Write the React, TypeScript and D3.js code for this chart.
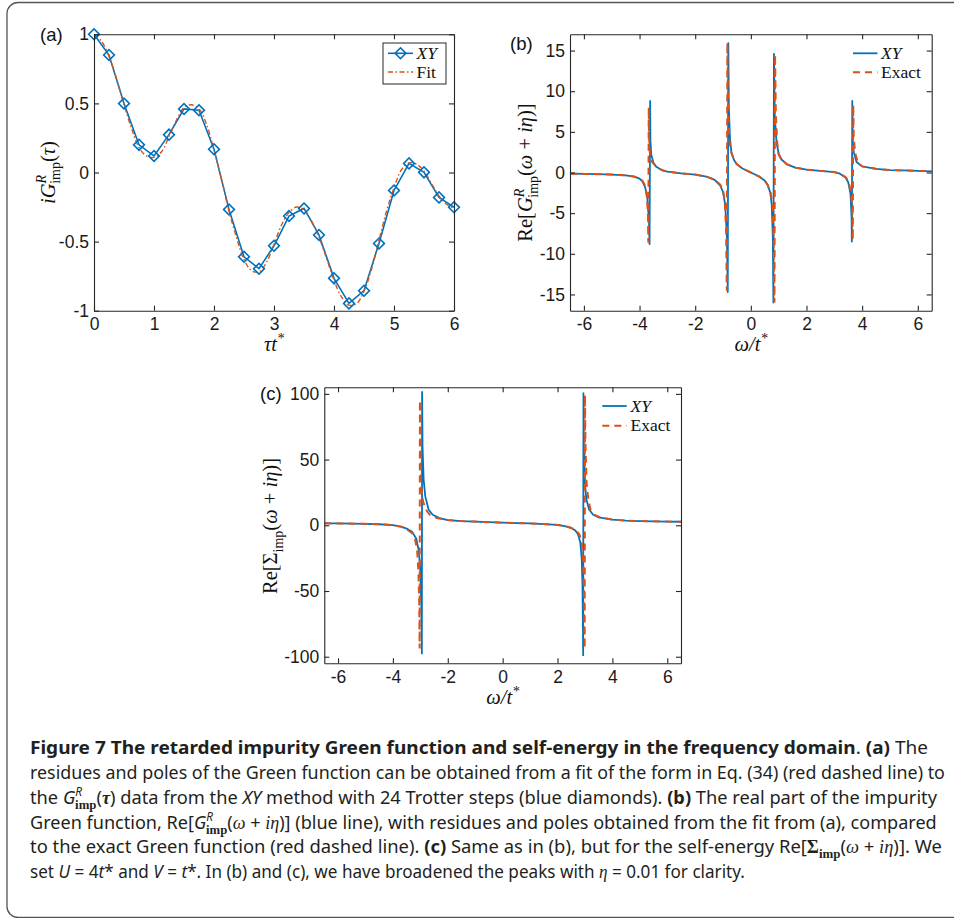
import React, { useEffect, useRef } from "react";
import * as d3 from "d3";

const BLUE = "#0072BD";
const RED = "#D95319";
const AX = "#262626";
const SANS = "'Liberation Sans', Arial, Helvetica, sans-serif";
const SERIF = "'Liberation Serif', 'Times New Roman', serif";

// ---------- Panel (a): iG(tau) ----------
const aTau = [0, 0.25, 0.5, 0.75, 1, 1.25, 1.5, 1.75, 2, 2.25, 2.5, 2.75, 3, 3.25, 3.5, 3.75, 4, 4.25, 4.5, 4.75, 5, 5.25, 5.5, 5.75, 6];
const aXY = [1.0, 0.85, 0.5, 0.2, 0.12, 0.274, 0.46, 0.45, 0.168, -0.267, -0.61, -0.696, -0.53, -0.315, -0.26, -0.452, -0.766, -0.947, -0.855, -0.513, -0.13, 0.066, 0.001, -0.18, -0.252];
const aFitTau = [0, 0.125, 0.25, 0.375, 0.5, 0.625, 0.75, 0.875, 1, 1.125, 1.25, 1.375, 1.5, 1.625, 1.75, 1.875, 2, 2.125, 2.25, 2.375, 2.5, 2.625, 2.75, 2.875, 3, 3.125, 3.25, 3.375, 3.5, 3.625, 3.75, 3.875, 4, 4.125, 4.25, 4.375, 4.5, 4.625, 4.75, 4.875, 5, 5.125, 5.25, 5.375, 5.5, 5.625, 5.75, 5.875, 6];
const aFit = [1.0, 0.95, 0.84, 0.68, 0.49, 0.32, 0.18, 0.12, 0.11, 0.15, 0.26, 0.38, 0.47, 0.49, 0.46, 0.35, 0.16, -0.05, -0.28, -0.47, -0.63, -0.71, -0.72, -0.65, -0.52, -0.38, -0.29, -0.25, -0.27, -0.35, -0.47, -0.62, -0.78, -0.9, -0.96, -0.95, -0.86, -0.7, -0.49, -0.28, -0.11, 0.02, 0.07, 0.06, 0.01, -0.08, -0.17, -0.23, -0.26];
const aXTicks = [0, 1, 2, 3, 4, 5, 6];
const aYTicks = [-1, -0.5, 0, 0.5, 1];

// ---------- Panel (b): Re G(omega) ----------
const bXYw = [-6.5, -6, -5.5, -5, -4.5, -4.2, -4, -3.9, -3.8, -3.72, -3.66, -3.64, -3.62, -3.61, -3.58, -3.5, -3.4, -3.2, -3, -2.5, -2, -1.6, -1.3, -1.1, -1, -0.92, -0.86, -0.83, -0.81, -0.79, -0.75, -0.7, -0.6, -0.5, -0.3, 0, 0.3, 0.5, 0.6, 0.7, 0.75, 0.79, 0.81, 0.83, 0.86, 0.92, 1, 1.1, 1.3, 1.6, 2, 2.5, 3, 3.2, 3.4, 3.5, 3.58, 3.62, 3.63, 3.645, 3.66, 3.7, 3.8, 4, 4.5, 5, 5.5, 6, 6.5];
const bXYv = [-0.15, -0.17, -0.2, -0.25, -0.35, -0.5, -0.75, -1.1, -1.8, -3.2, -6.0, -8.8, 8.8, 4.0, 2.2, 1.2, 0.7, 0.3, 0.1, -0.1, -0.25, -0.5, -0.9, -1.6, -2.4, -4.0, -8, -14.7, 15.9, 8, 4.2, 2.5, 1.5, 1.0, 0.5, 0.0, -0.5, -1.0, -1.5, -2.5, -4.0, -8, -16.0, 14.6, 7, 3.8, 2.3, 1.6, 1.0, 0.6, 0.35, 0.2, 0.05, -0.15, -0.6, -1.2, -2.6, -5.5, -8.5, 8.8, 4, 2.5, 1.3, 0.75, 0.45, 0.3, 0.25, 0.2, 0.15];
const bExw = [-6.5, -6, -5.5, -5, -4.5, -4.2, -4, -3.9, -3.8, -3.74, -3.7, -3.685, -3.67, -3.66, -3.63, -3.55, -3.4, -3.2, -3, -2.5, -2, -1.6, -1.3, -1.1, -1, -0.94, -0.89, -0.865, -0.845, -0.82, -0.78, -0.72, -0.6, -0.5, -0.3, 0, 0.3, 0.5, 0.6, 0.72, 0.78, 0.82, 0.85, 0.87, 0.9, 0.95, 1, 1.1, 1.3, 1.6, 2, 2.5, 3, 3.2, 3.4, 3.5, 3.6, 3.65, 3.665, 3.68, 3.7, 3.75, 3.85, 4, 4.5, 5, 5.5, 6, 6.5];
const bExv = [-0.15, -0.17, -0.2, -0.25, -0.35, -0.5, -0.7, -1.0, -1.6, -2.8, -5.0, -8.6, 8.0, 4.5, 2.4, 1.3, 0.7, 0.3, 0.1, -0.1, -0.25, -0.5, -0.85, -1.5, -2.1, -3.5, -7, -14.5, 16.0, 8, 4.2, 2.6, 1.5, 1.0, 0.5, 0, -0.5, -1.0, -1.5, -2.6, -4.2, -8, -16.0, 14.5, 7, 3.6, 2.2, 1.6, 1.0, 0.6, 0.35, 0.2, 0.05, -0.15, -0.55, -1.0, -2.4, -5, -8.3, 8.3, 4.2, 2.4, 1.2, 0.75, 0.45, 0.3, 0.25, 0.2, 0.15];
const bXTicks = [-6, -4, -2, 0, 2, 4, 6];
const bYTicks = [-15, -10, -5, 0, 5, 10, 15];

// ---------- Panel (c): Re Sigma(omega) ----------
const cXYw = [-6.5, -6, -5, -4.5, -4, -3.7, -3.5, -3.3, -3.15, -3.05, -3, -2.965, -2.945, -2.935, -2.92, -2.88, -2.82, -2.7, -2.55, -2.3, -2, -1.5, -1, 0, 1, 1.5, 2, 2.3, 2.5, 2.65, 2.75, 2.83, 2.88, 2.91, 2.935, 2.945, 2.96, 3, 3.05, 3.15, 3.3, 3.5, 4, 4.5, 5, 6, 6.5];
const cXYv = [1.5, 1.4, 1.1, 0.8, 0.2, -1, -2.5, -5, -10, -20, -35, -60, -97.5, 101.5, 60, 35, 22, 12, 8, 5.5, 4, 3.2, 2.8, 2.0, 1.4, 0.9, 0.3, -0.8, -2, -4, -7, -13, -25, -45, -98.8, 100.5, 60, 32, 20, 12, 8, 6, 4.3, 3.6, 3.2, 2.8, 2.7];
const cExw = [-6.5, -6, -5, -4.5, -4, -3.7, -3.5, -3.3, -3.2, -3.12, -3.07, -3.04, -3.025, -3.015, -3, -2.97, -2.9, -2.8, -2.65, -2.4, -2, -1.5, -1, 0, 1, 1.5, 2, 2.3, 2.5, 2.7, 2.8, 2.88, 2.93, 2.96, 2.99, 3.0, 3.02, 3.06, 3.12, 3.2, 3.35, 3.55, 4, 4.5, 5, 6, 6.5];
const cExv = [1.5, 1.4, 1.1, 0.8, 0.2, -1.2, -3, -6, -10, -18, -35, -60, -93.7, 95, 60, 30, 18, 12, 8, 5.5, 4, 3.2, 2.8, 2.0, 1.4, 0.9, 0.3, -0.8, -2, -4.5, -7, -13, -25, -45, -93.7, 99, 60, 32, 20, 12, 8, 6, 4.4, 3.6, 3.2, 2.8, 2.7];
const cXTicks = [-6, -4, -2, 0, 2, 4, 6];
const cYTicks = [-100, -50, 0, 50, 100];

// caption line layout: [baseline y, target width]
const capY = [754, 779, 803.5, 828.5, 853, 877.5];
const capW = [898, 915, 914, 913, 912, 715];

type Sel = d3.Selection<SVGGElement, unknown, null, undefined>;

function drawAxes(g: Sel, x: d3.ScaleLinear<number, number>, y: d3.ScaleLinear<number, number>, xt: number[], yt: number[]) {
  const [x0, x1] = x.range();
  const [y0, y1] = y.range();
  const fmt = (d: d3.NumberValue) => String(d);
  const style = (s: Sel) => {
    s.attr("font-size", 17.5).attr("font-family", SANS);
    s.selectAll("path, line").attr("stroke", AX).attr("stroke-width", 1.1);
    s.selectAll("text").attr("fill", "#1a1a1a");
  };
  g.append("g").attr("transform", `translate(0,${y0})`)
    .call(d3.axisBottom(x).tickValues(xt).tickSizeInner(-5).tickSizeOuter(0).tickPadding(7).tickFormat(fmt)).call(style);
  g.append("g").attr("transform", `translate(0,${y1})`)
    .call(d3.axisTop(x).tickValues(xt).tickSizeInner(-5).tickSizeOuter(0).tickFormat(() => "")).call(style);
  g.append("g").attr("transform", `translate(${x0},0)`)
    .call(d3.axisLeft(y).tickValues(yt).tickSizeInner(-5).tickSizeOuter(0).tickPadding(5).tickFormat(fmt)).call(style);
  g.append("g").attr("transform", `translate(${x1},0)`)
    .call(d3.axisRight(y).tickValues(yt).tickSizeInner(-5).tickSizeOuter(0).tickFormat(() => "")).call(style);
}

function clip(g: Sel, id: string, x: d3.ScaleLinear<number, number>, y: d3.ScaleLinear<number, number>) {
  const [x0, x1] = x.range();
  const [y0, y1] = y.range();
  g.append("clipPath").attr("id", id).append("rect").attr("x", x0).attr("y", y1).attr("width", x1 - x0).attr("height", y0 - y1);
}

function linePath(x: d3.ScaleLinear<number, number>, y: d3.ScaleLinear<number, number>, xs: number[], ys: number[], curve: d3.CurveFactory = d3.curveLinear) {
  const pts: [number, number][] = xs.map((v, i) => [v, ys[i]]);
  return d3.line<[number, number]>().x((d) => x(d[0])).y((d) => y(d[1])).curve(curve)(pts) as string;
}

export default function App() {
  const ref = useRef<SVGGElement>(null);
  const capRef = useRef<SVGGElement>(null);

  useEffect(() => {
    const fit = () => {
      const texts = capRef.current ? Array.from(capRef.current.querySelectorAll("text")) : [];
      texts.forEach((t, i) => {
        const w = (t as SVGTextElement).getComputedTextLength();
        const s = w > 0 ? capW[i] / w : 1;
        t.setAttribute("transform", `translate(30,${capY[i]}) scale(${s},1)`);
      });
    };
    fit();
    if ((document as any).fonts && (document as any).fonts.ready) (document as any).fonts.ready.then(fit);
  }, []);

  useEffect(() => {
    const root = d3.select(ref.current as SVGGElement) as unknown as Sel;
    root.selectAll("*").remove();

    const diamond = d3.symbol().type(d3.symbolSquare).size(58)() as string;

    // ----- Panel a -----
    const xA = d3.scaleLinear().domain([0, 6]).range([94, 454]);
    const yA = d3.scaleLinear().domain([-1, 1]).range([310.7, 34.3]);
    const ga = root.append("g");
    clip(ga, "clipA", xA, yA);
    const pa = ga.append("g").attr("clip-path", "url(#clipA)");
    pa.append("path").attr("d", linePath(xA, yA, aTau, aXY)).attr("fill", "none").attr("stroke", BLUE).attr("stroke-width", 1.6);
    ga.append("g").selectAll("path").data(aTau).join("path")
      .attr("d", diamond)
      .attr("transform", (d, i) => `translate(${xA(d)},${yA(aXY[i])}) rotate(45)`)
      .attr("fill", "none").attr("stroke", BLUE).attr("stroke-width", 1.6);
    pa.append("path").attr("d", linePath(xA, yA, aFitTau, aFit, d3.curveCatmullRom)).attr("fill", "none")
      .attr("stroke", RED).attr("stroke-width", 1.4).attr("stroke-dasharray", "5,2.5,1.5,2.5");
    drawAxes(ga, xA, yA, aXTicks, aYTicks);
    // legend a
    const la = ga.append("g");
    la.append("rect").attr("x", 383).attr("y", 43).attr("width", 63).attr("height", 41).attr("fill", "white").attr("stroke", AX).attr("stroke-width", 1);
    la.append("line").attr("x1", 388).attr("x2", 413).attr("y1", 53.3).attr("y2", 53.3).attr("stroke", BLUE).attr("stroke-width", 1.6);
    la.append("path").attr("d", diamond).attr("transform", "translate(400.5,53.3) rotate(45)").attr("fill", "none").attr("stroke", BLUE).attr("stroke-width", 1.6);
    la.append("line").attr("x1", 388).attr("x2", 413).attr("y1", 72).attr("y2", 72).attr("stroke", RED).attr("stroke-width", 1.4).attr("stroke-dasharray", "5,2.5,1.5,2.5");

    // ----- Panel b -----
    const xB = d3.scaleLinear().domain([-6.5, 6.5]).range([570, 931.7]);
    const yB = d3.scaleLinear().domain([-17, 17]).range([310.7, 34.3]);
    const gb = root.append("g");
    clip(gb, "clipB", xB, yB);
    const pb = gb.append("g").attr("clip-path", "url(#clipB)");
    pb.append("path").attr("d", linePath(xB, yB, bXYw, bXYv)).attr("fill", "none").attr("stroke", BLUE).attr("stroke-width", 1.8).attr("stroke-linejoin", "round");
    pb.append("path").attr("d", linePath(xB, yB, bExw, bExv)).attr("fill", "none").attr("stroke", RED).attr("stroke-width", 2).attr("stroke-dasharray", "7,5");
    drawAxes(gb, xB, yB, bXTicks, bYTicks);
    gb.append("line").attr("x1", 853).attr("x2", 877.5).attr("y1", 53.3).attr("y2", 53.3).attr("stroke", BLUE).attr("stroke-width", 1.8);
    gb.append("line").attr("x1", 853).attr("x2", 877.5).attr("y1", 72.3).attr("y2", 72.3).attr("stroke", RED).attr("stroke-width", 2).attr("stroke-dasharray", "7,5");

    // ----- Panel c -----
    const xC = d3.scaleLinear().domain([-6.5, 6.5]).range([324.3, 681]);
    const yC = d3.scaleLinear().domain([-105, 105]).range([663.3, 387.3]);
    const gc = root.append("g");
    clip(gc, "clipC", xC, yC);
    const pc = gc.append("g").attr("clip-path", "url(#clipC)");
    pc.append("path").attr("d", linePath(xC, yC, cXYw, cXYv)).attr("fill", "none").attr("stroke", BLUE).attr("stroke-width", 1.8).attr("stroke-linejoin", "round");
    pc.append("path").attr("d", linePath(xC, yC, cExw, cExv)).attr("fill", "none").attr("stroke", RED).attr("stroke-width", 2).attr("stroke-dasharray", "7,5");
    drawAxes(gc, xC, yC, cXTicks, cYTicks);
    gc.append("line").attr("x1", 602.3).attr("x2", 626.7).attr("y1", 406).attr("y2", 406).attr("stroke", BLUE).attr("stroke-width", 1.8);
    gc.append("line").attr("x1", 602.3).attr("x2", 626.7).attr("y1", 425.7).attr("y2", 425.7).attr("stroke", RED).attr("stroke-width", 2).attr("stroke-dasharray", "7,5");
  }, []);

  const cap = { fill: "#231f20", fontFamily: "'Noto Sans', 'Open Sans', sans-serif", fontSize: 18.5 } as const;
  const m = { fontFamily: SERIF, fill: "#111" } as const;

  return (
    <div style={{ position: "absolute", left: 0, top: 0 }}>
      <svg width={954} height={918} viewBox="0 0 954 918" style={{ display: "block", background: "white" }}>
        <rect x={7} y={2.5} width={980} height={915} rx={11} ry={11} fill="none" stroke="#555" strokeWidth={1.3} />
        <g ref={ref} />

        {/* panel labels */}
        <text x={40} y={40.5} fontFamily={SANS} fontSize={18.5} fill="#111">(a)</text>
        <text x={510} y={49.5} fontFamily={SANS} fontSize={18.5} fill="#111">(b)</text>
        <text x={260} y={399.5} fontFamily={SANS} fontSize={18.5} fill="#111">(c)</text>

        {/* legend texts */}
        <g style={m} fontSize={17.5}>
          <text x={416.5} y={59}><tspan fontStyle="italic">XY</tspan></text>
          <text x={416.5} y={77.5}>Fit</text>
          <text x={881} y={59}><tspan fontStyle="italic">XY</tspan></text>
          <text x={881} y={78}>Exact</text>
          <text x={630.5} y={411.5}><tspan fontStyle="italic">XY</tspan></text>
          <text x={630.5} y={431}>Exact</text>
        </g>

        {/* axis titles */}
        <g style={m} fontSize={20.5}>
          <text x={274} y={350.5} textAnchor="middle" fontStyle="italic">τt<tspan fontSize={14} dy={-8}>*</tspan></text>
          <text x={751} y={350.5} textAnchor="middle" fontStyle="italic">ω/t<tspan fontSize={14} dy={-8}>*</tspan></text>
          <text x={502.7} y={703.5} textAnchor="middle" fontStyle="italic">ω/t<tspan fontSize={14} dy={-8}>*</tspan></text>

          <text transform="translate(54.5,172.5) rotate(-90)" textAnchor="middle">
            <tspan fontStyle="italic">iG</tspan>
            <tspan fontStyle="italic" fontSize={14} dy={-8.5}>R</tspan>
            <tspan fontSize={14} dx={-9} dy={14}>imp</tspan>
            <tspan dy={-5.5}>(</tspan><tspan fontStyle="italic">τ</tspan><tspan>)</tspan>
          </text>
          <text transform="translate(532,172.5) rotate(-90)" textAnchor="middle">
            <tspan>Re[</tspan><tspan fontStyle="italic">G</tspan>
            <tspan fontStyle="italic" fontSize={14} dy={-8.5}>R</tspan>
            <tspan fontSize={14} dx={-9} dy={14}>imp</tspan>
            <tspan dy={-5.5}>(</tspan><tspan fontStyle="italic">ω</tspan><tspan> + </tspan><tspan fontStyle="italic">iη</tspan><tspan>)]</tspan>
          </text>
          <text transform="translate(277,526) rotate(-90)" textAnchor="middle">
            <tspan>Re[Σ</tspan>
            <tspan fontSize={14} dy={5.5}>imp</tspan>
            <tspan dy={-5.5}>(</tspan><tspan fontStyle="italic">ω</tspan><tspan> + </tspan><tspan fontStyle="italic">iη</tspan><tspan>)]</tspan>
          </text>
        </g>

        {/* caption (each line scaled horizontally to its measured width in effect) */}
        <g style={cap} ref={capRef}>
          <text transform={`translate(30,${capY[0]}) scale(0.82,1)`}>
            <tspan fontWeight="bold">Figure 7 The retarded impurity Green function and self-energy in the frequency domain</tspan>
            <tspan>. </tspan><tspan fontWeight="bold">(a)</tspan><tspan> The</tspan>
          </text>
          <text transform={`translate(30,${capY[1]}) scale(0.82,1)`}>
            residues and poles of the Green function can be obtained from a fit of the form in Eq. (34) (red dashed line) to
          </text>
          <text transform={`translate(30,${capY[2]}) scale(0.82,1)`}>
            <tspan>the </tspan><tspan fontStyle="italic">G</tspan>
            <tspan fontStyle="italic" fontSize={12} dy={-8}>R</tspan>
            <tspan fontWeight="bold" fontFamily={SERIF} fontSize={13} dx={-7} dy={13}>imp</tspan>
            <tspan dy={-5}>(</tspan><tspan fontStyle="italic" fontWeight="bold" fontFamily={SERIF}>τ</tspan>
            <tspan>) data from the </tspan><tspan fontStyle="italic">XY</tspan>
            <tspan> method with 24 Trotter steps (blue diamonds). </tspan><tspan fontWeight="bold">(b)</tspan>
            <tspan> The real part of the impurity</tspan>
          </text>
          <text transform={`translate(30,${capY[3]}) scale(0.82,1)`}>
            <tspan>Green function, Re[</tspan><tspan fontStyle="italic">G</tspan>
            <tspan fontStyle="italic" fontSize={12} dy={-8}>R</tspan>
            <tspan fontWeight="bold" fontFamily={SERIF} fontSize={13} dx={-7} dy={13}>imp</tspan>
            <tspan dy={-5}>(</tspan><tspan fontStyle="italic" fontFamily={SERIF}>ω</tspan><tspan> + </tspan>
            <tspan fontStyle="italic" fontFamily={SERIF}>iη</tspan>
            <tspan>)] (blue line), with residues and poles obtained from the fit from (a), compared</tspan>
          </text>
          <text transform={`translate(30,${capY[4]}) scale(0.82,1)`}>
            <tspan>to the exact Green function (red dashed line). </tspan><tspan fontWeight="bold">(c)</tspan>
            <tspan> Same as in (b), but for the self-energy Re[</tspan>
            <tspan fontWeight="bold" fontFamily={SERIF}>Σ</tspan>
            <tspan fontWeight="bold" fontFamily={SERIF} fontSize={13} dy={5}>imp</tspan>
            <tspan dy={-5}>(</tspan><tspan fontStyle="italic" fontFamily={SERIF}>ω</tspan><tspan> + </tspan>
            <tspan fontStyle="italic" fontFamily={SERIF}>iη</tspan><tspan>)]. We</tspan>
          </text>
          <text transform={`translate(30,${capY[5]}) scale(0.82,1)`}>
            <tspan>set </tspan><tspan fontStyle="italic">U</tspan><tspan> = 4</tspan><tspan fontStyle="italic">t</tspan>
            <tspan>* and </tspan><tspan fontStyle="italic">V</tspan><tspan> = </tspan><tspan fontStyle="italic">t</tspan>
            <tspan>*. In (b) and (c), we have broadened the peaks with </tspan>
            <tspan fontStyle="italic" fontFamily={SERIF}>η</tspan><tspan> = 0.01 for clarity.</tspan>
          </text>
        </g>
      </svg>
    </div>
  );
}
